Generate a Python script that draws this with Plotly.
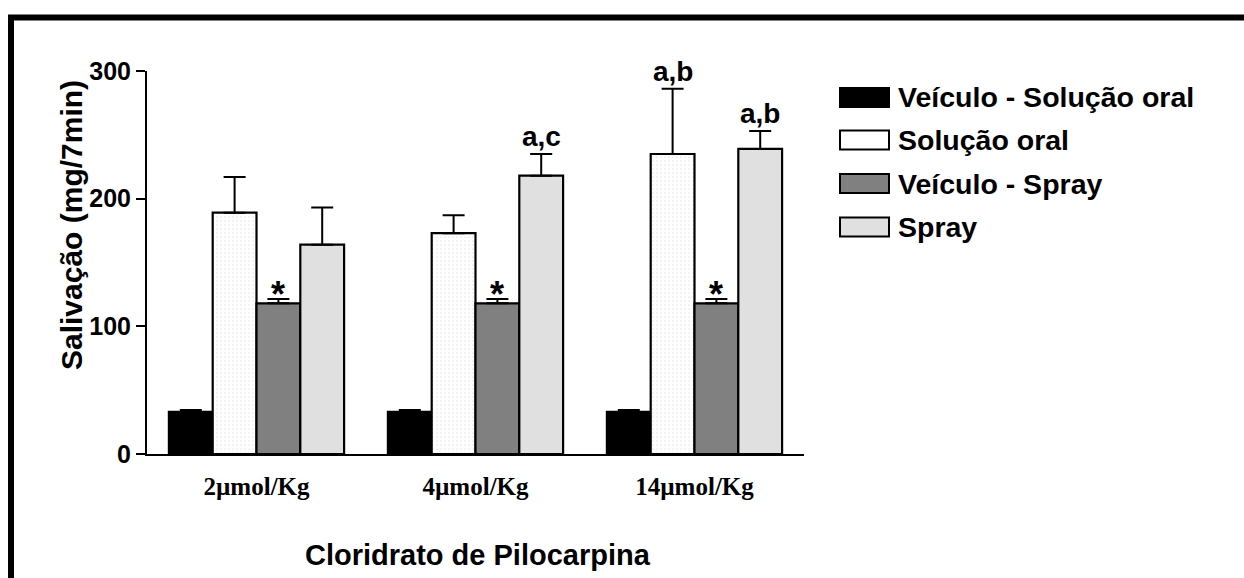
import plotly.graph_objects as go

# ---------------- data ----------------
categories = ["2µmol/Kg", "4µmol/Kg", "14µmol/Kg"]
series_names = ["Veículo - Solução oral", "Solução oral", "Veículo - Spray", "Spray"]
veh_oral = [33, 33, 33]
veh_oral_err = [1.5, 1.5, 1.5]
sol_oral = [189, 173, 235]
sol_oral_err = [28, 14, 51]
veh_spray = [118, 118, 118]
veh_spray_err = [3.5, 3.5, 3.5]
spray = [164, 218, 239]
spray_err = [29, 17, 14]
y_ticks = [0, 100, 200, 300]
# significance labels: (series index, category index, text)
sig_labels = [(2, 0, "*"), (2, 1, "*"), (2, 2, "*"),
              (3, 1, "a,c"), (1, 2, "a,b"), (3, 2, "a,b")]

values = [veh_oral, sol_oral, veh_spray, spray]
errors = [veh_oral_err, sol_oral_err, veh_spray_err, spray_err]

# ---------------- styling ----------------
W, H = 1244, 578
ML, MR, MT, MB = 147, 440, 71, 124
PW, PH = W - ML - MR, H - MT - MB
fills = ["#000000", "#ffffff", "#808080", "#e0e0e0"]
BARGAP = 0.2
SANS = "Liberation Sans, Arial, sans-serif"
SERIF = "Liberation Serif, Times New Roman, serif"


def px_x(px):
    return (px - ML) / PW


def px_y(py):
    return (H - MB - py) / PH


fig = go.Figure()
for i, name in enumerate(series_names):
    marker = dict(color=fills[i], line=dict(color="#000000", width=2.2))
    if i == 1:
        marker["pattern"] = dict(shape=".", fgcolor="#cfcfcf", bgcolor="#ffffff",
                                 size=4, solidity=0.15)
    fig.add_trace(go.Bar(
        x=categories, y=values[i], name=name, marker=marker,
        error_y=dict(type="data", symmetric=False, array=errors[i],
                     arrayminus=[0] * len(errors[i]),
                     color="#000000", thickness=2, width=11),
        showlegend=False,
    ))

annotations = []
n = len(series_names)
bw = (1 - BARGAP) / n
for s, c, txt in sig_labels:
    xpos = c + (s - (n - 1) / 2) * bw
    ytop = values[s][c] + errors[s][c]
    if txt == "*":
        annotations.append(dict(x=xpos, y=ytop, xref="x", yref="y", text=txt,
                                showarrow=False, yanchor="bottom", yshift=-18,
                                font=dict(family=SANS, size=36, color="#000000", weight="bold")))
    else:
        annotations.append(dict(x=xpos, y=ytop, xref="x", yref="y", text=txt,
                                showarrow=False, yanchor="bottom", yshift=0,
                                font=dict(family=SANS, size=28, color="#000000", weight="bold")))

# y-axis title
annotations.append(dict(x=px_x(71), y=px_y(225), xref="paper", yref="paper",
                        text="Salivação (mg/7min)", textangle=-90, showarrow=False,
                        xanchor="center", yanchor="middle",
                        font=dict(family=SANS, size=30, color="#000000", weight="bold")))
# x-axis title
annotations.append(dict(x=px_x(478), y=px_y(555), xref="paper", yref="paper",
                        text="Cloridrato de Pilocarpina", showarrow=False,
                        xanchor="center", yanchor="middle",
                        font=dict(family=SANS, size=29, color="#000000", weight="bold")))

shapes = []
# outer frame
shapes.append(dict(type="rect", xref="paper", yref="paper",
                   x0=px_x(11), x1=px_x(1290), y0=px_y(620), y1=px_y(17.5),
                   line=dict(color="#000000", width=6), fillcolor="rgba(0,0,0,0)",
                   layer="above"))

# custom legend
leg_y = [97.5, 140, 183.5, 227]
for i, name in enumerate(series_names):
    cy = leg_y[i]
    shapes.append(dict(type="rect", xref="paper", yref="paper",
                       x0=px_x(840), x1=px_x(889), y0=px_y(cy + 9.5), y1=px_y(cy - 9.5),
                       line=dict(color="#000000", width=2), fillcolor=fills[i]))
    annotations.append(dict(x=px_x(896), y=px_y(cy), xref="paper", yref="paper",
                            text=name, showarrow=False, xanchor="left", yanchor="middle",
                            font=dict(family=SANS, size=28.5, color="#000000", weight="bold")))

fig.update_layout(
    width=W, height=H,
    margin=dict(l=ML, r=MR, t=MT, b=MB, pad=0),
    paper_bgcolor="#ffffff", plot_bgcolor="#ffffff",
    barmode="group", bargap=BARGAP, bargroupgap=0,
    showlegend=False,
    annotations=annotations, shapes=shapes,
    xaxis=dict(showline=True, linecolor="#000000", linewidth=2, ticks="",
               showgrid=False, zeroline=False, ticklabelstandoff=9,
               tickfont=dict(family=SERIF, size=25, color="#000000", weight="bold")),
    yaxis=dict(range=[0, 300], tickvals=y_ticks, showline=True, linecolor="#000000",
               linewidth=2, ticks="outside", ticklen=9, tickwidth=2, tickcolor="#000000",
               showgrid=False, zeroline=False,
               tickfont=dict(family=SANS, size=25, color="#000000", weight="bold")),
)

fig.write_html("out.html")
